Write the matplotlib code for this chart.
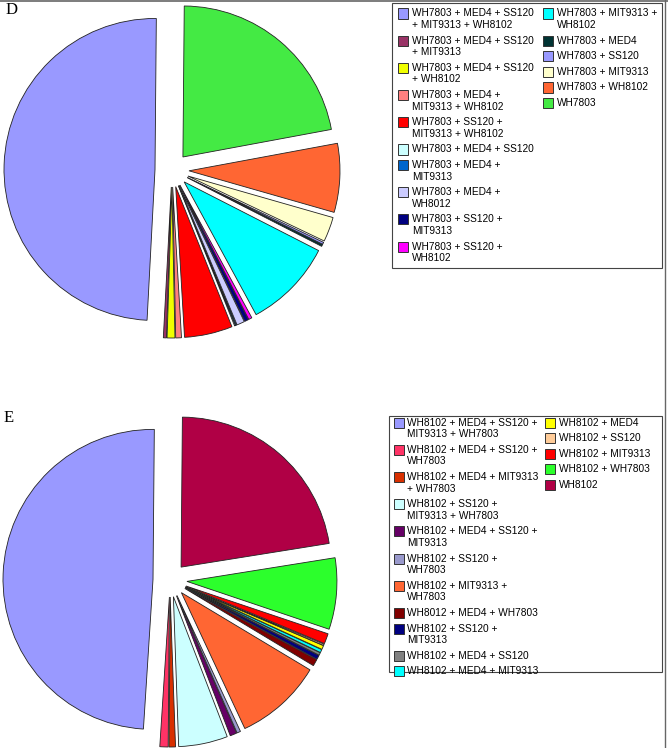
import matplotlib
matplotlib.use("Agg")
import matplotlib.pyplot as plt
from matplotlib.patches import Rectangle
from matplotlib.lines import Line2D

W, H = 668, 748

# ---------------- data ----------------
d_labels = [
    "WH7803 + MED4 + SS120\n+ MIT9313 + WH8102",
    "WH7803 + MED4 + SS120\n+ MIT9313",
    "WH7803 + MED4 + SS120\n+ WH8102",
    "WH7803 + MED4 +\nMIT9313 + WH8102",
    "WH7803 + SS120 +\nMIT9313 + WH8102",
    "WH7803 + MED4 + SS120",
    "WH7803 + MED4 +\nMIT9313",
    "WH7803 + MED4 +\nWH8012",
    "WH7803 + SS120 +\nMIT9313",
    "WH7803 + SS120 +\nWH8102",
    "WH7803 + MIT9313 +\nWH8102",
    "WH7803 + MED4",
    "WH7803 + SS120",
    "WH7803 + MIT9313",
    "WH7803 + WH8102",
    "WH7803",
]
d_values = [49.3, 0.33, 0.83, 0.61, 5.14, 0.11, 0.11, 0.83, 0.42, 0.36,
            9.58, 0.22, 0.22, 2.64, 7.36, 21.94]
d_colors = ["#9999FF", "#993366", "#F0FF00", "#FF8080", "#FF0000", "#CCFFFF",
            "#0066CC", "#CCCCFF", "#000080", "#FF00FF", "#00FFFF", "#003333",
            "#9999FF", "#FFFFCC", "#FF6633", "#44EA44"]

e_labels = [
    "WH8102 + MED4 + SS120 +\nMIT9313 + WH7803",
    "WH8102 + MED4 + SS120 +\nWH7803",
    "WH8102 + MED4 + MIT9313\n+ WH7803",
    "WH8102 + SS120 +\nMIT9313 + WH7803",
    "WH8102 + MED4 + SS120 +\nMIT9313",
    "WH8102 + SS120 +\nWH7803",
    "WH8102 + MIT9313 +\nWH7803",
    "WH8012 + MED4 + WH7803",
    "WH8102 + SS120 +\nMIT9313",
    "WH8102 + MED4 + SS120",
    "WH8102 + MED4 + MIT9313",
    "WH8102 + MED4",
    "WH8102 + SS120",
    "WH8102 + MIT9313",
    "WH8102 + WH7803",
    "WH8102",
]
e_values = [49.11, 0.89, 0.69, 5.28, 0.72, 0.39, 9.44, 0.72, 0.44, 0.28,
            0.33, 0.42, 0.14, 1.11, 7.69, 22.33]
e_colors = ["#9999FF", "#FF3366", "#D83000", "#CCFFFF", "#660066", "#9999CC",
            "#FF6633", "#800000", "#000080", "#808080", "#00FFFF", "#FFFF00",
            "#FFCC99", "#FF0000", "#2CFF2C", "#B00045"]

panel_letters = ["D", "E"]

# ---------------- figure ----------------
fig = plt.figure(figsize=(W / 100, H / 100), dpi=100)
fig.patch.set_facecolor("white")


def px_axes(cx, cy, half):
    return fig.add_axes([(cx - half) / W, (H - cy - half) / H, 2 * half / W, 2 * half / H])


def draw_pie(cx, cy, r, explode_px, values, colors):
    half = 178
    ax = px_axes(cx, cy, half)
    wedges, _ = ax.pie(values, colors=colors, explode=[explode_px / r] * len(values),
                       startangle=89.5, counterclock=True, radius=1.0,
                       wedgeprops=dict(edgecolor="#222222", linewidth=0.6))
    for w in wedges:
        w.set_clip_on(False)
    lim = half / r
    ax.set_xlim(-lim, lim)
    ax.set_ylim(-lim, lim)
    ax.set_aspect("auto")
    ax.axis("off")


def draw_legend(box, labels, colors, col1_n, x_sw, x_tx, y0, line_h=11.6, gap=4.0):
    bx0, by0, bx1, by1 = box
    fig.add_artist(Rectangle((bx0 / W, 1 - by1 / H), (bx1 - bx0) / W, (by1 - by0) / H,
                             transform=fig.transFigure, facecolor="white",
                             edgecolor="#444444", linewidth=0.8))
    cols = [list(range(0, col1_n)), list(range(col1_n, len(labels)))]
    for c, idxs in enumerate(cols):
        y = y0
        for i in idxs:
            lines = labels[i].split("\n")
            sw = 10
            fig.add_artist(Rectangle((x_sw[c] / W, 1 - (y + sw / 2) / H), sw / W, sw / H,
                                     transform=fig.transFigure, facecolor=colors[i],
                                     edgecolor="#333333", linewidth=0.7))
            for k, ln in enumerate(lines):
                fig.text(x_tx[c] / W, 1 - (y + k * line_h) / H, ln,
                         fontsize=7.3, family="Liberation Sans", color="black",
                         ha="left", va="center")
            y += len(lines) * line_h + gap


# Pies
draw_pie(172, 170, 151, 17, d_values, d_colors)
draw_pie(170, 580, 150, 17, e_values, e_colors)

# Legends
draw_legend((392, 3, 662, 268), d_labels, d_colors, 10,
            x_sw=(398, 543), x_tx=(412, 557), y0=13.5)
draw_legend((389, 416, 662, 672), e_labels, e_colors, 11,
            x_sw=(394, 545), x_tx=(407, 559), y0=422.5)

# Panel letters
fig.text(6 / W, 1 - 10 / H, panel_letters[0], fontsize=12, family="Liberation Serif",
         ha="left", va="center", color="black")
fig.text(4 / W, 1 - 418 / H, panel_letters[1], fontsize=12, family="Liberation Serif",
         ha="left", va="center", color="black")

# Page frame lines
fig.add_artist(Line2D([0, 1], [1 - 0.8 / H, 1 - 0.8 / H], transform=fig.transFigure,
                      color="#666666", linewidth=1.2))
fig.add_artist(Line2D([665 / W, 665 / W], [0, 1], transform=fig.transFigure,
                      color="#666666", linewidth=1.0))

fig.savefig("out.png", dpi=100, facecolor="white")
